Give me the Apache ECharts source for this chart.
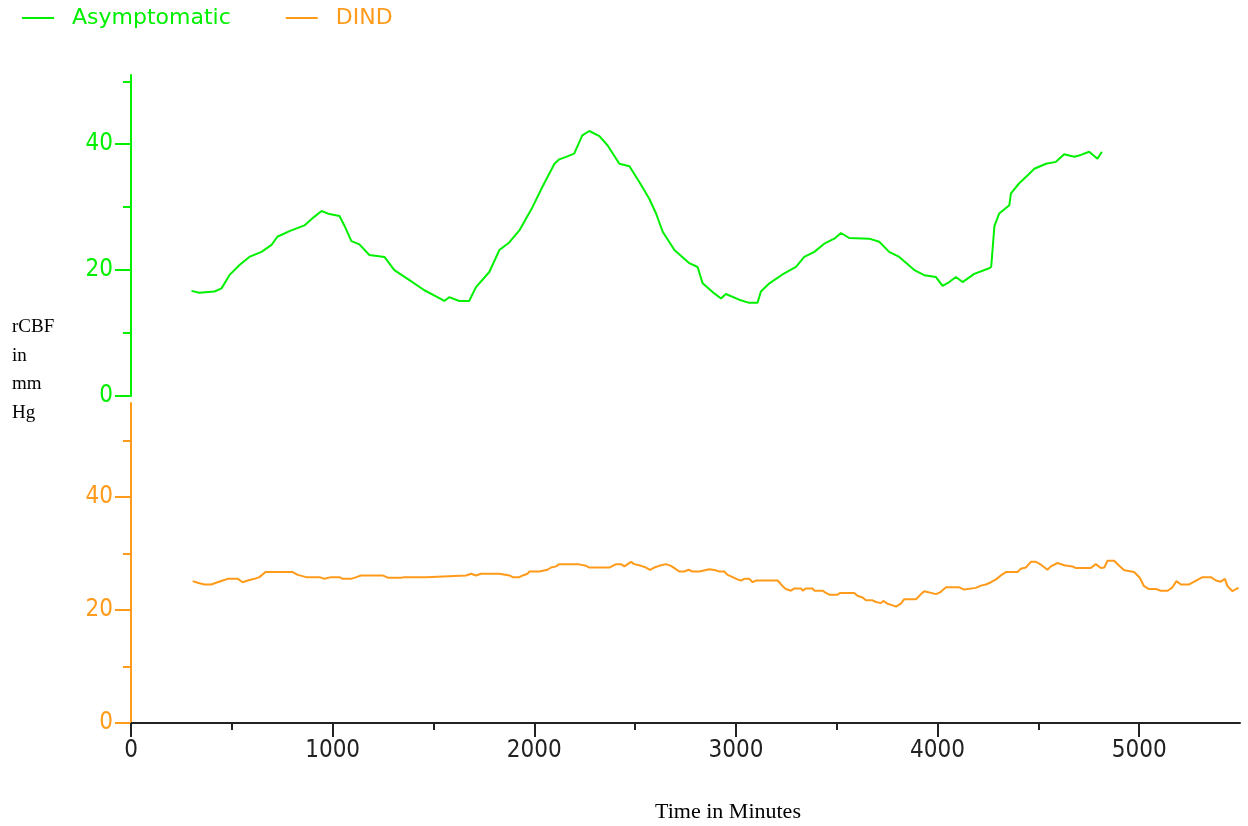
<!DOCTYPE html>
<html><head><meta charset="utf-8">
<script src="https://cdn.jsdelivr.net/npm/echarts@6/dist/echarts.min.js"></script>
<style>html,body{margin:0;padding:0;background:#fff}#c{width:1248px;height:826px}</style>
</head><body><div id="c"></div><script>
// ---- data ----
const asymptomaticTime = [300,339,414,449,488,538,587,647,697,726,786,860,910,945,984,1034,1058,1093,1133,1182,1257,1306,1381,1455,1515,1554,1578,1628,1677,1711,1777,1827,1876,1926,1991,2040,2100,2124,2158,2198,2238,2273,2323,2364,2422,2472,2521,2571,2604,2637,2695,2769,2810,2835,2893,2926,2950,3016,3066,3107,3124,3166,3240,3298,3339,3389,3438,3488,3521,3562,3661,3711,3760,3810,3885,3934,3992,4025,4058,4091,4124,4182,4256,4266,4282,4306,4356,4364,4405,4455,4480,4538,4587,4628,4678,4711,4752,4793,4815];
const asymptomaticRcbf = [16.7,16.4,16.6,17.1,19.2,20.8,22.1,22.9,24.0,25.3,26.2,27.1,28.5,29.4,28.9,28.6,27.1,24.6,24.1,22.4,22.1,20.0,18.4,16.8,15.8,15.1,15.7,15.1,15.1,17.3,19.7,23.2,24.4,26.3,30.0,33.2,36.9,37.6,38.0,38.5,41.4,42.1,41.3,39.8,36.9,36.5,34.0,31.3,29.0,26.1,23.2,21.1,20.5,17.9,16.3,15.5,16.2,15.3,14.8,14.8,16.6,17.9,19.5,20.5,22.1,22.9,24.2,25.0,25.9,25.1,25.0,24.5,22.9,22.1,20.0,19.2,18.9,17.5,18.1,18.9,18.1,19.4,20.3,20.5,27.0,29.0,30.3,32.2,33.8,35.3,36.1,36.9,37.2,38.4,38.0,38.3,38.8,37.7,38.8];
const dindTime = [306,331,364,398,422,455,480,530,554,579,612,637,667,736,802,827,869,935,959,993,1034,1050,1092,1117,1141,1248,1273,1340,1356,1463,1472,1662,1687,1711,1736,1827,1835,1877,1893,1926,1943,1967,1976,2025,2034,2066,2083,2108,2124,2215,2224,2257,2273,2372,2389,2406,2430,2447,2463,2480,2496,2530,2554,2574,2595,2620,2653,2678,2695,2719,2744,2765,2785,2819,2868,2900,2918,2942,2959,2984,3008,3025,3042,3066,3083,3100,3207,3232,3248,3273,3290,3323,3331,3348,3380,3389,3430,3447,3463,3504,3516,3587,3603,3628,3645,3678,3695,3719,3731,3752,3777,3794,3818,3835,3893,3918,3934,3959,3992,4012,4042,4108,4132,4190,4215,4240,4265,4290,4314,4339,4397,4413,4438,4463,4488,4513,4545,4562,4595,4628,4669,4686,4760,4785,4810,4827,4843,4876,4901,4926,4975,5003,5024,5049,5083,5108,5141,5165,5185,5207,5248,5273,5298,5314,5356,5381,5405,5425,5438,5463,5480,5493];
const dindRcbf = [25.1,24.8,24.5,24.5,24.8,25.2,25.5,25.5,24.9,25.2,25.5,25.8,26.7,26.7,26.7,26.2,25.8,25.8,25.5,25.8,25.8,25.5,25.5,25.8,26.1,26.1,25.7,25.7,25.8,25.8,26.1,26.1,26.4,26.1,26.4,26.4,26.1,26.1,25.8,25.8,26.1,26.4,26.8,26.8,27.1,27.1,27.5,27.7,28.1,28.1,27.8,27.8,27.5,27.5,27.8,28.1,28.1,27.7,28.1,28.5,28.1,27.8,27.5,27.1,27.5,27.8,28.1,27.8,27.4,26.8,26.8,27.1,26.8,26.8,27.2,27.0,26.8,26.8,26.2,25.8,25.4,25.2,25.5,25.5,24.9,25.2,25.2,24.2,23.7,23.4,23.8,23.8,23.4,23.8,23.8,23.4,23.4,23.0,22.7,22.7,23.0,23.0,22.5,22.2,21.7,21.7,21.4,21.2,21.6,21.1,20.8,20.6,21.1,21.9,21.9,22.8,23.3,23.1,22.8,23.1,24.0,24.0,23.6,23.9,24.3,24.5,24.9,25.4,26.1,26.7,26.7,27.3,27.5,28.5,28.5,28.0,27.1,27.7,28.3,27.9,27.7,27.4,27.4,28.1,27.4,27.5,28.7,28.7,27.8,27.0,26.7,25.7,24.2,23.7,23.7,23.4,23.4,24.0,25.1,24.5,24.5,25.0,25.5,25.8,25.8,25.2,25.0,25.5,24.2,23.3,23.7,23.9];
const xMajorTicks = [0,1000,2000,3000,4000,5000];
const xMinorTicks = [500,1500,2500,3500,4500];
const yMajorTicks = [0,20,40];
const yMinorTicks = [10,30,50];
const seriesNames = ['Asymptomatic','DIND'];
const yTitle = 'rCBF\nin\nmm\nHg';
const xTitle = 'Time in Minutes';

// ---- styles ----
const GREEN = '#00f000';
const ORANGE = '#ff9a1a';
const tickFont = "'Liberation Sans Narrow','DejaVu Sans Condensed','Liberation Sans',sans-serif";
const plain = v => String(v);

const zip = (a,b) => a.map((v,i)=>[v,b[i]]);

function yAxes(grid, max, color){
  return [
    {type:'value', gridIndex:grid, position:'left', min:0, max:max,
     axisLine:{show:true, lineStyle:{color:color, width:2}},
     axisTick:{show:true, customValues:yMajorTicks, length:16, lineStyle:{color:color, width:2}},
     axisLabel:{show:true, customValues:yMajorTicks, formatter:plain, color:color, fontSize:24, fontFamily:tickFont, margin:18, padding:[4,0,0,0]},
     splitLine:{show:false}},
    {type:'value', gridIndex:grid, position:'left', min:0, max:max,
     axisLine:{show:false},
     axisTick:{show:true, customValues:yMinorTicks, length:8, lineStyle:{color:color, width:2}},
     axisLabel:{show:false}, splitLine:{show:false}}
  ];
}

const chart = echarts.init(document.getElementById('c'), null, {renderer:'canvas'});
chart.setOption({
  animation:false,
  backgroundColor:'#fff',
  legend:{
    left:22, top:7, padding:0, itemWidth:32, itemHeight:2, itemGap:55, icon:'rect',
    data:[
      {name:seriesNames[0], textStyle:{color:GREEN}},
      {name:seriesNames[1], textStyle:{color:ORANGE}}
    ],
    textStyle:{fontSize:22, fontFamily:"'DejaVu Sans',sans-serif", padding:[0,0,0,13]}
  },
  grid:[
    {left:131, right:8, top:75, height:321},
    {left:131, right:8, top:403, height:320}
  ],
  xAxis:[
    {type:'value', gridIndex:0, min:0, max:5500, show:false},
    {type:'value', gridIndex:1, min:0, max:5500,
     axisLine:{show:true, lineStyle:{color:'#222', width:2}},
     axisTick:{show:true, customValues:xMajorTicks, length:14, lineStyle:{color:'#222', width:2}},
     axisLabel:{show:true, customValues:xMajorTicks, formatter:plain, color:'#222', fontSize:24, fontFamily:tickFont, margin:16},
     splitLine:{show:false}},
    {type:'value', gridIndex:1, min:0, max:5500, position:'bottom',
     axisLine:{show:false},
     axisTick:{show:true, customValues:xMinorTicks, length:7, lineStyle:{color:'#222', width:2}},
     axisLabel:{show:false}, splitLine:{show:false}}
  ],
  yAxis:[].concat(yAxes(0, 51, GREEN), yAxes(1, 56.6, ORANGE)),
  series:[
    {name:seriesNames[0], type:'line', xAxisIndex:0, yAxisIndex:0, data:zip(asymptomaticTime, asymptomaticRcbf),
     showSymbol:false, symbol:'none', color:GREEN, lineStyle:{color:GREEN, width:2}},
    {name:seriesNames[1], type:'line', xAxisIndex:1, yAxisIndex:2, data:zip(dindTime, dindRcbf),
     showSymbol:false, symbol:'none', color:ORANGE, lineStyle:{color:ORANGE, width:2}}
  ],
  graphic:[
    {type:'text', left:12, top:313, style:{text:yTitle, font:"19px 'Liberation Serif', serif", lineHeight:28.5, fill:'#000'}},
    {type:'text', x:728, y:812, style:{text:xTitle, font:"22px 'Liberation Serif', serif", align:'center', verticalAlign:'middle', fill:'#000'}}
  ]
});
</script></body></html>
